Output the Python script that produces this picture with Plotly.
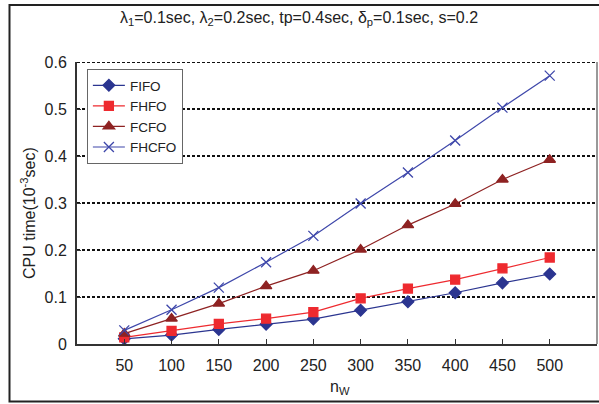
import plotly.graph_objects as go

n_w = [50, 100, 150, 200, 250, 300, 350, 400, 450, 500]
fifo = [0.011, 0.019, 0.031, 0.042, 0.053, 0.072, 0.090, 0.109, 0.130, 0.149]
fhfo = [0.014, 0.028, 0.043, 0.054, 0.068, 0.097, 0.118, 0.137, 0.161, 0.184]
fcfo = [0.022, 0.054, 0.086, 0.123, 0.156, 0.201, 0.253, 0.298, 0.350, 0.392]
fhcfo = [0.029, 0.073, 0.120, 0.174, 0.230, 0.299, 0.365, 0.433, 0.503, 0.571]

x_ticks = [50, 100, 150, 200, 250, 300, 350, 400, 450, 500]
y_ticks = [0, 0.1, 0.2, 0.3, 0.4, 0.5, 0.6]
y_tick_text = ["0", "0.1", "0.2", "0.3", "0.4", "0.5", "0.6"]

series = [
    ("FIFO", fifo, "#2B3590", "diamond", 9),
    ("FHFO", fhfo, "#EE2A2F", "square", 9),
    ("FCFO", fcfo, "#8E2222", "triangle-up", 10),
    ("FHCFO", fhcfo, "#3E47AA", "x-thin-open", 10),
]

fig = go.Figure()
for name, vals, col, sym, sz in series:
    fig.add_trace(go.Scatter(
        x=n_w, y=vals, name=name, mode="lines+markers",
        line=dict(color=col, width=1.2),
        marker=dict(symbol=sym, size=sz, color=col,
                    line=dict(color=col, width=1.3)),
    ))

font = "Liberation Sans, Arial, sans-serif"
fig.update_layout(
    width=599, height=404,
    margin=dict(l=77, r=2, t=62, b=60),
    paper_bgcolor="white", plot_bgcolor="white",
    font=dict(family=font, size=16, color="#222"),
    showlegend=True,
    legend=dict(x=0.019, y=0.975, xanchor="left", yanchor="top",
                bgcolor="white", bordercolor="#666", borderwidth=1,
                font=dict(size=13.5), tracegroupgap=0, itemwidth=32),
    xaxis=dict(range=[0, 550], tickvals=x_ticks, ticks="inside", ticklen=5,
               tickcolor="#333", showgrid=False, zeroline=False,
               showline=True, linecolor="#333", linewidth=2,
               ticklabelstandoff=6, tickfont=dict(size=16)),
    yaxis=dict(range=[0, 0.6], tickvals=y_ticks, ticktext=y_tick_text,
               ticks="inside", ticklen=4, tickcolor="#333",
               showgrid=True, gridcolor="#111", gridwidth=2, griddash="3px,2px",
               zeroline=False, showline=True, linecolor="#333", linewidth=2,
               ticklabelstandoff=5, tickfont=dict(size=16)),
    annotations=[
        dict(text="λ<sub>1</sub>=0.1sec, λ<sub>2</sub>=0.2sec, tp=0.4sec, δ<sub>p</sub>=0.1sec, s=0.2",
             xref="paper", yref="paper", x=(299 - 77) / 520, y=(344 - 18) / 282,
             xanchor="center", yanchor="middle", showarrow=False, font=dict(size=16)),
        dict(text="n<sub>W</sub>", xref="paper", yref="paper",
             x=(340 - 77) / 520, y=(344 - 387) / 282,
             xanchor="center", yanchor="middle", showarrow=False, font=dict(size=16)),
        dict(text="CPU time(10<sup>-3</sup>sec)", xref="paper", yref="paper",
             x=(28 - 77) / 520, y=(344 - 213) / 282, textangle=-90,
             xanchor="center", yanchor="middle", showarrow=False, font=dict(size=16)),
    ],
    shapes=[
        dict(type="line", xref="paper", yref="paper", x0=1, x1=1, y0=0, y1=1,
             line=dict(color="#777", width=1.5)),
        dict(type="line", xref="paper", yref="y", x0=0, x1=1, y0=0.6, y1=0.6,
             line=dict(color="#111", width=2, dash="3px,2px")),
        dict(type="rect", xref="paper", yref="paper",
             x0=(9.5 - 77) / 520, x1=(600 - 77) / 520,
             y0=(344 - 401.5) / 282, y1=(344 - 5) / 282,
             line=dict(color="#222", width=2), layer="below"),
    ],
)

fig.write_html("out.html")
